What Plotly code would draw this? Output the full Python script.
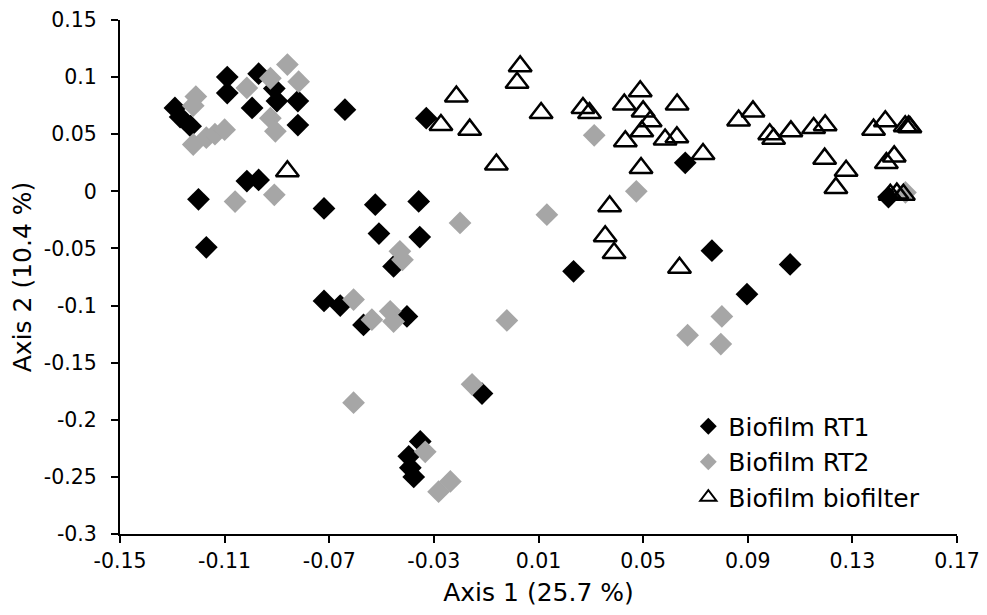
import plotly.graph_objects as go

# Biofilm RT1 (black diamonds)
rt1_x = [-0.129, -0.127, -0.123, -0.109, -0.109, -0.097, -0.091, -0.0995, -0.090, -0.082,
         -0.082, -0.064, -0.120, -0.117, -0.1015, -0.097, -0.072, -0.0524, -0.0358, -0.051,
         -0.0354, -0.0454, -0.072, -0.0658, -0.0569, -0.0403, -0.0116, -0.0352, -0.0396, -0.039,
         -0.0377, -0.0329, 0.0234, 0.0661, 0.0763, 0.1062, 0.0897, 0.1438]
rt1_y = [0.073, 0.065, 0.057, 0.100, 0.086, 0.103, 0.090, 0.073, 0.079, 0.079,
         0.058, 0.0715, -0.007, -0.049, 0.009, 0.010, -0.015, -0.0117, -0.0088, -0.037,
         -0.040, -0.0657, -0.096, -0.100, -0.117, -0.1095, -0.177, -0.219, -0.232, -0.242,
         -0.250, 0.064, -0.070, 0.025, -0.052, -0.064, -0.090, -0.005]

# Biofilm RT2 (grey diamonds)
rt2_x = [-0.086, -0.0817, -0.1015, -0.0925, -0.121, -0.122, -0.122, -0.117, -0.1137, -0.110,
         -0.0925, -0.0906, -0.106, -0.091, -0.043, -0.042, -0.0607, -0.0537, -0.0467, -0.0454,
         -0.020, -0.0021, -0.0154, -0.0607, -0.0333, -0.0282, -0.0237, 0.0132, 0.0313, 0.0474,
         0.0801, 0.067, 0.0797, 0.1503]
rt2_y = [0.111, 0.096, 0.0905, 0.099, 0.083, 0.075, 0.041, 0.047, 0.050, 0.054,
         0.064, 0.0525, -0.009, -0.003, -0.0525, -0.060, -0.0948, -0.1124, -0.105, -0.114,
         -0.0277, -0.113, -0.169, -0.185, -0.228, -0.263, -0.254, -0.0204, 0.049, 0.000,
         -0.1095, -0.126, -0.1337, -0.001]

# Biofilm biofilter (open triangles)
bf_x = [-0.086, 0.003, 0.0018, -0.0214, -0.0273, -0.0163, 0.011, -0.0061, 0.027, 0.0295,
        0.0428, 0.0489, 0.050, 0.0527, 0.0495, 0.0432, 0.0584, 0.0629, 0.063, 0.0492,
        0.0372, 0.0355, 0.0389, 0.0639, 0.0729, 0.0865, 0.092, 0.0984, 0.0999, 0.1065,
        0.1152, 0.1196, 0.1194, 0.1276, 0.1237, 0.1381, 0.1426, 0.1502, 0.1515, 0.152,
        0.143, 0.146, 0.1445, 0.147, 0.1495]
bf_y = [0.0175, 0.1095, 0.095, 0.083, 0.058, 0.054, 0.0686, 0.0234, 0.073, 0.0686,
        0.076, 0.0876, 0.070, 0.0613, 0.0525, 0.0438, 0.0453, 0.0473, 0.076, 0.0204,
        -0.0131, -0.0394, -0.054, -0.067, 0.0327, 0.062, 0.070, 0.050, 0.046, 0.0525,
        0.0554, 0.0578, 0.0286, 0.018, 0.003, 0.054, 0.0613, 0.057, 0.057, 0.056,
        0.0248, 0.0306, -0.003, -0.002, -0.003]

series_names = ["Biofilm RT1", "Biofilm RT2", "Biofilm biofilter"]

x_tickvals = [-0.15, -0.11, -0.07, -0.03, 0.01, 0.05, 0.09, 0.13, 0.17]
x_ticktext = ["-0.15", "-0.11", "-0.07", "-0.03", "0.01", "0.05", "0.09", "0.13", "0.17"]
y_tickvals = [0.15, 0.1, 0.05, 0, -0.05, -0.1, -0.15, -0.2, -0.25, -0.3]
y_ticktext = ["0.15", "0.1", "0.05", "0", "-0.05", "-0.1", "-0.15", "-0.2", "-0.25", "-0.3"]

BLACK = "#000000"
GREY = "#A6A6A6"
FONT = "DejaVu Sans"

fig = go.Figure()
fig.add_trace(go.Scatter(x=rt1_x, y=rt1_y, mode="markers", name=series_names[0],
                         showlegend=False,
                         marker=dict(symbol="diamond", size=17.5, color=BLACK, line=dict(width=0))))
fig.add_trace(go.Scatter(x=rt2_x, y=rt2_y, mode="markers", name=series_names[1],
                         showlegend=False,
                         marker=dict(symbol="diamond", size=17.5, color=GREY, line=dict(width=0))))
fig.add_trace(go.Scatter(x=bf_x, y=bf_y, mode="markers", name=series_names[2],
                         showlegend=False,
                         marker=dict(symbol="triangle-up-open", size=20, color=BLACK,
                                     line=dict(width=2.5, color=BLACK))))
# legend entries (smaller symbols as in the reference)
fig.add_trace(go.Scatter(x=[None], y=[None], mode="markers", name=series_names[0],
                         marker=dict(symbol="diamond", size=13, color=BLACK, line=dict(width=0))))
fig.add_trace(go.Scatter(x=[None], y=[None], mode="markers", name=series_names[1],
                         marker=dict(symbol="diamond", size=13, color=GREY, line=dict(width=0))))
fig.add_trace(go.Scatter(x=[None], y=[None], mode="markers", name=series_names[2],
                         marker=dict(symbol="triangle-up-open", size=14, color=BLACK,
                                     line=dict(width=2, color=BLACK))))

# the page body adds an 8px margin, so the figure is 971x599
fig.update_layout(
    width=971, height=599,
    margin=dict(l=112, r=22, t=12, b=73),
    paper_bgcolor="white", plot_bgcolor="white",
    font=dict(family=FONT, color="#000000", size=20.5),
    legend=dict(x=0.679, y=0.254, xanchor="left", yanchor="top",
                font=dict(size=25, family=FONT), bgcolor="rgba(0,0,0,0)",
                tracegroupgap=0, itemwidth=30),
    xaxis=dict(range=[-0.15, 0.17], tickvals=x_tickvals, ticktext=x_ticktext,
               automargin=False, ticklabeloverflow="allow",
               showgrid=False, zeroline=False, showline=True, linecolor=BLACK, linewidth=2,
               ticks="outside", ticklen=7, tickwidth=2, tickcolor=BLACK,
               tickfont=dict(size=20.5, family=FONT),
               title=dict(text="Axis 1 (25.7 %)", font=dict(size=25, family=FONT), standoff=15)),
    yaxis=dict(range=[-0.3, 0.15], tickvals=y_tickvals, ticktext=y_ticktext,
               automargin=False, ticklabelstandoff=10, ticklabeloverflow="allow",
               showgrid=False, zeroline=False, showline=True, linecolor=BLACK, linewidth=2,
               ticks="outside", ticklen=7, tickwidth=2, tickcolor=BLACK,
               tickfont=dict(size=20.5, family=FONT),
               title=dict(text="Axis 2 (10.4 %)", font=dict(size=25, family=FONT), standoff=8)),
)

fig.write_html("out.html")
